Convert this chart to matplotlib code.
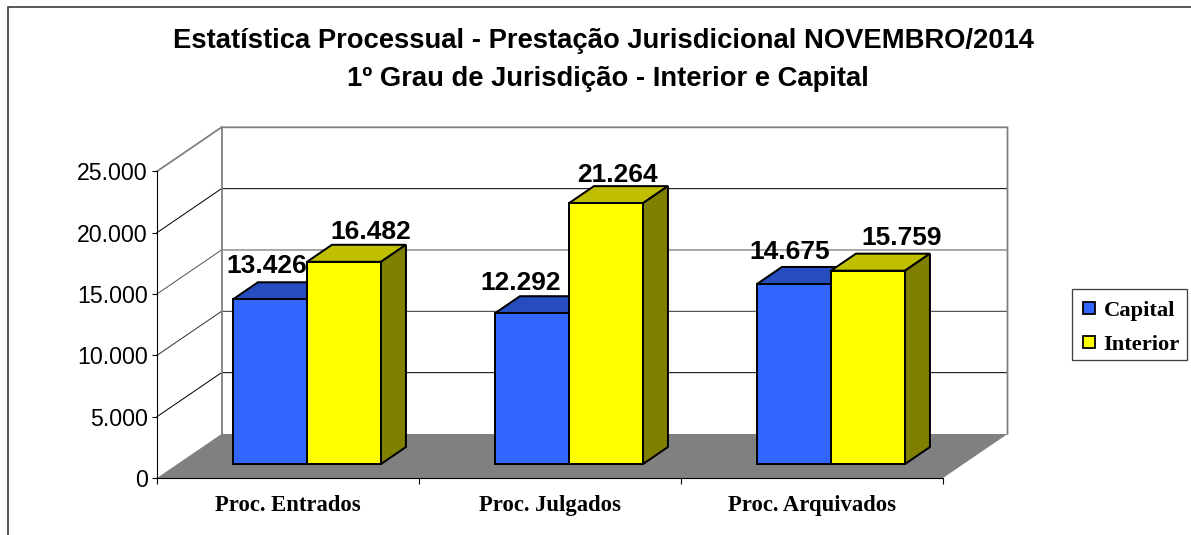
import matplotlib
matplotlib.use("Agg")
import matplotlib.pyplot as plt
from matplotlib.lines import Line2D
from matplotlib.patches import Polygon, Rectangle

# ---- data ----
categories = ["Proc. Entrados", "Proc. Julgados", "Proc. Arquivados"]
capital = [13426, 12292, 14675]
interior = [16482, 21264, 15759]
capital_labels = ["13.426", "12.292", "14.675"]
interior_labels = ["16.482", "21.264", "15.759"]
y_ticks = [0, 5000, 10000, 15000, 20000, 25000]
y_tick_labels = ["0", "5.000", "10.000", "15.000", "20.000", "25.000"]
title_lines = ["Estatística Processual - Prestação Jurisdicional NOVEMBRO/2014",
               "1º Grau de Jurisdição - Interior e Capital"]
series_names = ["Capital", "Interior"]

# ---- style / layout ----
W, H = 1191, 535
SANS = "Liberation Sans"
SERIF = "Liberation Serif"
PX = 0.72  # points per pixel at dpi 100
X0, X1, Y0, Y1 = 157, 943, 478, 171.3
fig = plt.figure(figsize=(W / 100, H / 100), dpi=100, facecolor="white")
ax = fig.add_axes([X0 / W, 1 - Y0 / H, (X1 - X0) / W, (Y0 - Y1) / H])
ax.set_xlim(0, 3)
ax.set_ylim(0, 25000)
ax.set_facecolor("none")
ax.set_zorder(2)

# oblique projection: depth d in 0..1 shifts a point by (DX, DY) data units
DX = 64.5 / ((X1 - X0) / 3)
DY = 44 / (Y0 - Y1) * 25000
GAP = 55.5 / ((X1 - X0) / 3)
BAR_W = 74 / ((X1 - X0) / 3)
D_FRONT = 14 / 44
D_BACK = 31 / 44


def P(x, v, d):
    return (x + d * DX, v + d * DY)


def poly(pts, fc, ec="none", lw=0.0, z=1):
    ax.add_patch(Polygon(pts, closed=True, facecolor=fc, edgecolor=ec, linewidth=lw,
                         joinstyle="miter", clip_on=False, zorder=z))


GREY = "#808080"
# floor
poly([P(0, 0, 0), P(3, 0, 0), P(3, 0, 1), P(0, 0, 1)], GREY, z=1)
# grid on the side and back walls
grid_colors = {5000: "black", 10000: "#333333", 15000: "#555555", 20000: "black"}
for t in y_ticks[1:-1]:
    xs, ys = zip(P(0, t, 0), P(0, t, 1), P(3, t, 1))
    ax.plot(xs, ys, color=grid_colors[t], lw=1.0 * PX, clip_on=False, zorder=1.2,
            solid_joinstyle="miter")
# wall outline
xs, ys = zip(P(0, 25000, 0), P(0, 25000, 1), P(3, 25000, 1), P(3, 0, 1))
ax.plot(xs, ys, color=GREY, lw=1.8 * PX, clip_on=False, zorder=1.3, solid_joinstyle="miter")
xs, ys = zip(P(0, 25000, 1), P(0, 0, 1))
ax.plot(xs, ys, color=GREY, lw=1.8 * PX, clip_on=False, zorder=1.3)

BAR_LW = 2.0 * PX
series = [(capital, "#3366FF", "#264DBF", "#1A3380"),
          (interior, "#FFFF00", "#BFBF00", "#808000")]
for s, (vals, front, top, side) in enumerate(series):
    z = 2 + s
    lefts = [i + GAP + s * BAR_W + D_FRONT * DX for i in range(3)]
    ax.bar(lefts, vals, width=BAR_W, bottom=D_FRONT * DY, align="edge", color=front,
           edgecolor="black", linewidth=BAR_LW, clip_on=False, zorder=z + 0.1)
    for i, v in enumerate(vals):
        xl = i + GAP + s * BAR_W
        xr = xl + BAR_W
        poly([P(xl, v, D_FRONT), P(xr, v, D_FRONT), P(xr, v, D_BACK), P(xl, v, D_BACK)],
             top, "black", BAR_LW, z)
        poly([P(xr, 0, D_FRONT), P(xr, v, D_FRONT), P(xr, v, D_BACK), P(xr, 0, D_BACK)],
             side, "black", BAR_LW, z)

# data labels: pixel offset of the text's baseline centre from the top-centre of the front face
cap_off = [(-3, 26), (-11, 23), (-4, 25)]
int_off = [(27, 23), (11, 21), (34, 26)]
for s, (vals, labs, offs) in enumerate([(capital, capital_labels, cap_off),
                                        (interior, interior_labels, int_off)]):
    for i, (v, lab, (ox, oy)) in enumerate(zip(vals, labs, offs)):
        xc = i + GAP + s * BAR_W + BAR_W / 2
        ax.annotate(lab, xy=P(xc, v, D_FRONT), xytext=(ox * PX, oy * PX),
                    textcoords="offset points", ha="center", va="baseline",
                    fontfamily=SANS, fontweight="bold", fontsize=19, color="black",
                    annotation_clip=False, zorder=6)

# axes
for sp in ["top", "right"]:
    ax.spines[sp].set_visible(False)
for sp in ["left", "bottom"]:
    ax.spines[sp].set_linewidth(1.1 * PX)
    ax.spines[sp].set_zorder(1.5)
ax.set_yticks(y_ticks)
ax.set_yticklabels(y_tick_labels, fontfamily=SANS, fontsize=16.7)
ax.tick_params(axis="y", length=5 * PX, width=1.1 * PX, pad=3)
ax.set_xticks(range(4))
ax.set_xticklabels([])
ax.tick_params(axis="x", which="major", length=6 * PX, width=1.1 * PX)
ax.set_xticks([i + 0.5 for i in range(3)], minor=True)
ax.set_xticklabels(categories, minor=True, fontfamily=SERIF, fontweight="bold", fontsize=16.3)
ax.tick_params(axis="x", which="minor", length=0, pad=12)

# title
fig.text(603.5 / W, 1 - 41 / H, title_lines[0], ha="center", va="center", fontfamily=SANS,
         fontweight="bold", fontsize=19.75)
fig.text(608 / W, 1 - 78.5 / H, title_lines[1], ha="center", va="center", fontfamily=SANS,
         fontweight="bold", fontsize=19.75)

# legend: frame drawn on its own so the entries can sit lower inside it
fig.add_artist(Rectangle((1072 / W, 1 - 360 / H), 115 / W, 71 / H, transform=fig.transFigure,
                         facecolor="white", edgecolor="#404040", linewidth=1.3 * PX))
handles = [Line2D([], [], linestyle="none", marker="s", markersize=12 * PX,
                  markerfacecolor=series[i][1], markeredgecolor="black",
                  markeredgewidth=1.8 * PX) for i in range(2)]
leg = fig.legend(handles, series_names, loc="upper left",
                 bbox_to_anchor=(1072 / W, 1 - 293.5 / H), bbox_transform=fig.transFigure,
                 prop={"family": SERIF, "weight": "bold", "size": 16.2},
                 frameon=False, handlelength=0.9, handletextpad=0.21,
                 labelspacing=0.6, borderpad=0.3, borderaxespad=0)

# outer frame
fig.add_artist(Line2D([7.9 / W, 7.9 / W, 1], [0, 1 - 6.5 / H, 1 - 6.5 / H],
                      color="#333333", lw=1.6 * PX, solid_joinstyle="miter"))

fig.savefig("out.png", dpi=100, facecolor="white")
